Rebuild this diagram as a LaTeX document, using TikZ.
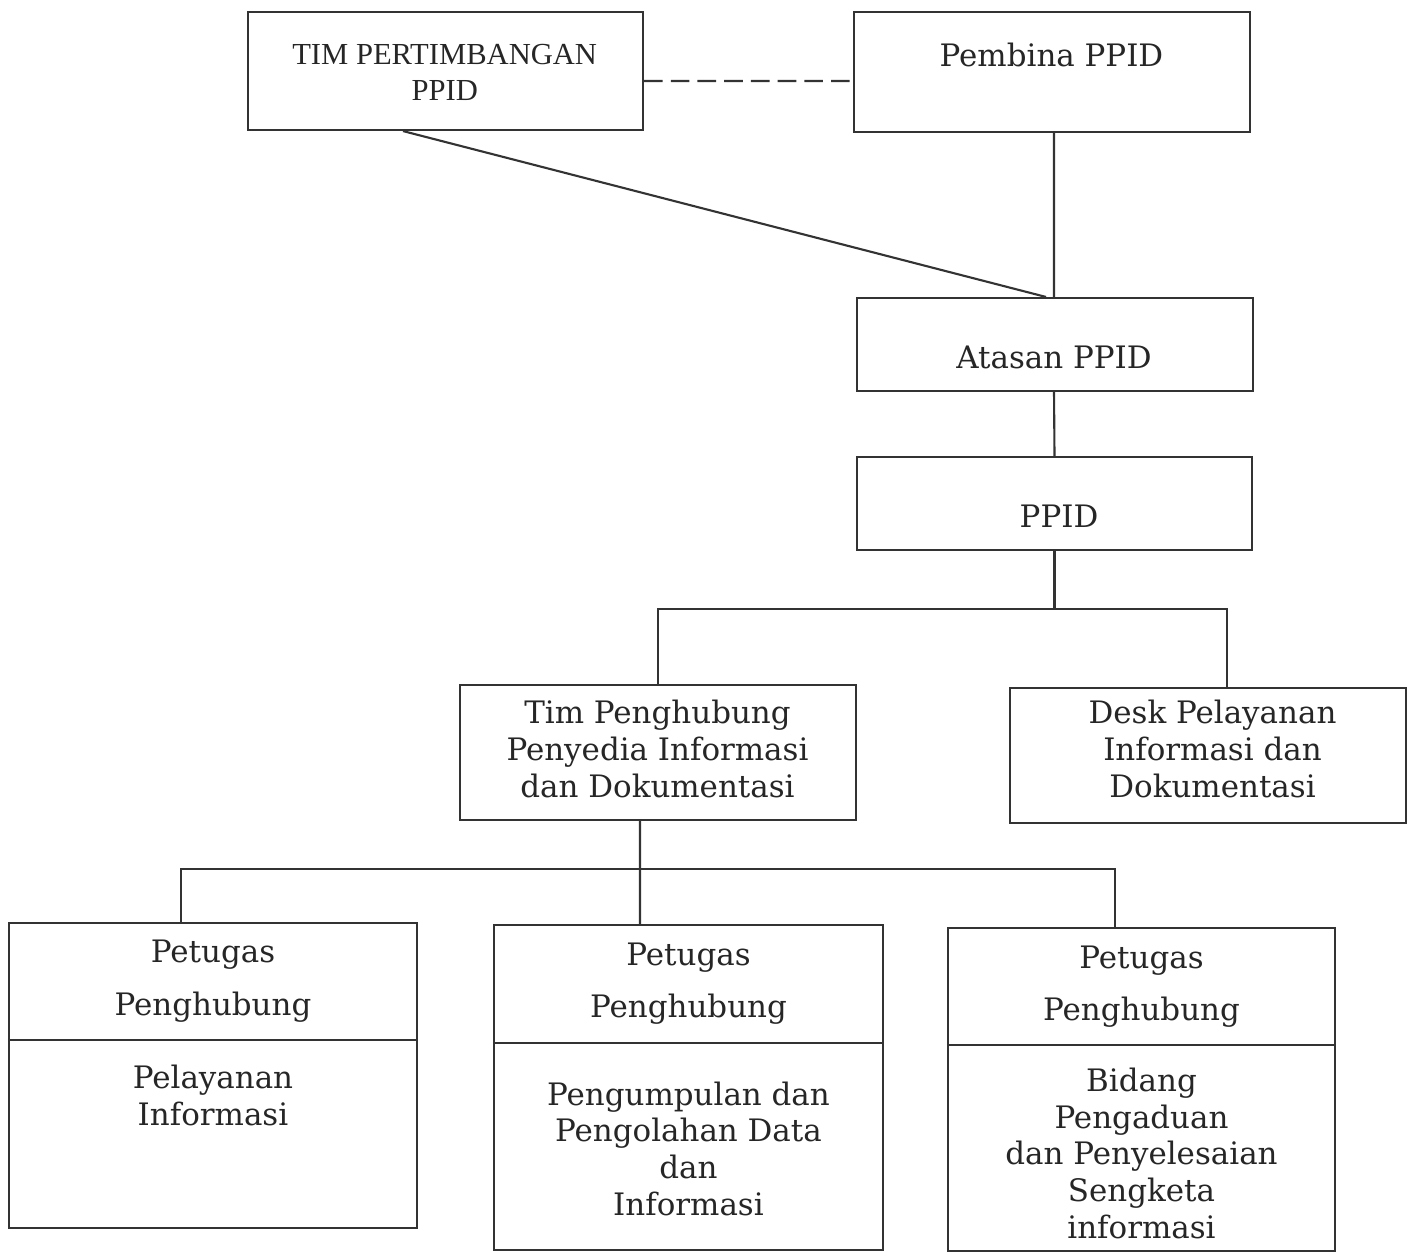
\documentclass[tikz,border=0pt]{standalone}
\usepackage{fontspec}
\setmainfont{DejaVu Serif}
\newfontfamily\tms{Liberation Serif}
\begin{document}
\begin{tikzpicture}[
  every node/.style={inner sep=0pt},
  box/.style={draw=black!80, line width=0.6pt, rectangle},
  ln/.style={draw=black!80, line width=0.6pt},
  dsh/.style={draw=black!80, line width=0.6pt, dash pattern=on 5.3pt off 2.3pt},
  txt/.style={text=black!85, font=\fontsize{8.8pt}{10.4pt}\selectfont, align=center, anchor=base},
  ttxt/.style={text=black!85, font=\tms\fontsize{8.7pt}{10.15pt}\selectfont, align=center, anchor=base}
]
\useasboundingbox (0,0) rectangle (14.12,-12.52);

% boxes
\node[box, minimum width=3.95cm, minimum height=1.18cm] (tim) at (4.455,-0.71) {};
\node[box, minimum width=3.96cm, minimum height=1.20cm] (pembina) at (10.52,-0.72) {};
\node[box, minimum width=3.96cm, minimum height=0.93cm] (atasan) at (10.55,-3.445) {};
\node[box, minimum width=3.95cm, minimum height=0.93cm] (ppid) at (10.545,-5.035) {};
\node[box, minimum width=3.96cm, minimum height=1.35cm] (timp) at (6.58,-7.525) {};
\node[box, minimum width=3.96cm, minimum height=1.35cm] (desk) at (12.08,-7.555) {};
\node[box, minimum width=4.08cm, minimum height=3.05cm] (p1) at (2.13,-10.755) {};
\node[box, minimum width=3.89cm, minimum height=3.25cm] (p2) at (6.885,-10.875) {};
\node[box, minimum width=3.87cm, minimum height=3.23cm] (p3) at (11.415,-10.895) {};

% texts (multi-line nodes: base = baseline of last line)
\node[ttxt] (tTim) at (4.447,-1.005) {TIM PERTIMBANGAN\\PPID};
\node[txt] (tPembina) at (10.515,-0.667) {Pembina PPID};
\node[txt] (tAtasan) at (10.54,-3.68) {Atasan PPID};
\node[txt] (tPpid) at (10.59,-5.27) {PPID};
\node[txt] (tTimp) at (6.575,-7.97) {Tim Penghubung\\Penyedia Informasi\\dan Dokumentasi};
\node[txt] (tDesk) at (12.125,-7.97) {Desk Pelayanan\\Informasi dan\\Dokumentasi};

\node[txt] (p1a) at (2.13,-9.62) {Petugas};
\node[txt] (p1b) at (2.13,-10.15) {Penghubung};
\node[txt] (p1c) at (2.13,-11.25) {Pelayanan\\Informasi};

\node[txt] (p2a) at (6.885,-9.65) {Petugas};
\node[txt] (p2b) at (6.885,-10.17) {Penghubung};
\node[txt] (p2c) at (6.885,-12.15) {Pengumpulan dan\\Pengolahan Data\\dan\\Informasi};

\node[txt] (p3a) at (11.415,-9.68) {Petugas};
\node[txt] (p3b) at (11.415,-10.20) {Penghubung};
\node[txt] (p3c) at (11.415,-12.38) {Bidang\\Pengaduan\\dan Penyelesaian\\Sengketa\\informasi};

% dividers
\draw[ln] ([yshift=-1.18cm]p1.north west) -- ([yshift=-1.18cm]p1.north east);
\draw[ln] ([yshift=-1.19cm]p2.north west) -- ([yshift=-1.19cm]p2.north east);
\draw[ln] ([yshift=-1.18cm]p3.north west) -- ([yshift=-1.18cm]p3.north east);

% connectors
\coordinate (bus1) at (10.545,-6.09);
\coordinate (bus2) at (6.40,-8.69);
\draw[dsh] ([yshift=-0.10cm]tim.east) -- ([yshift=-0.09cm]pembina.west);
\draw[ln] ([xshift=-0.425cm]tim.south) -- ([xshift=-0.09cm]atasan.north);
\draw[ln] ([xshift=0.02cm]pembina.south) -- ([xshift=-0.01cm]atasan.north);
\draw[ln] ([xshift=-0.01cm]atasan.south) -- (ppid.north);
\draw[ln] (ppid.south) -- (bus1);
\draw[ln] (timp.north) |- (bus1);
\draw[ln] ([xshift=0.19cm]desk.north) |- (bus1);
\draw[ln] ([xshift=-0.18cm]timp.south) -- ([xshift=-0.485cm]p2.north);
\draw[ln] ([xshift=-0.32cm]p1.north) |- (bus2);
\draw[ln] ([xshift=-0.265cm]p3.north) |- (bus2);
\end{tikzpicture}
\end{document}
